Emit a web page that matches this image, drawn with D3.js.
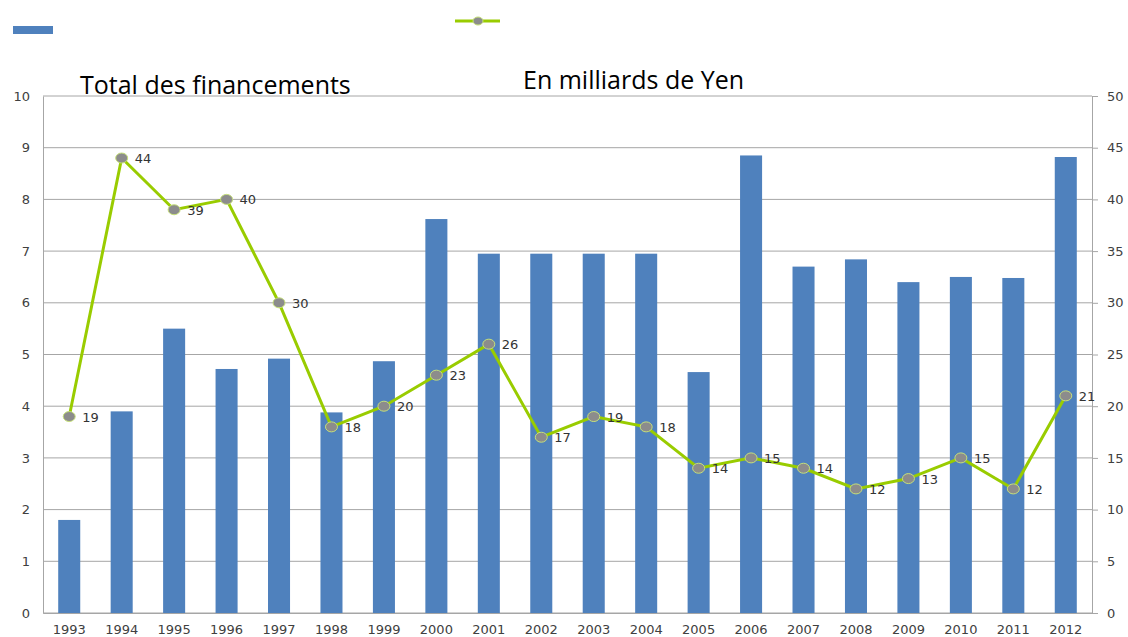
<!DOCTYPE html>
<html>
<head>
<meta charset="utf-8">
<script src="https://cdn.jsdelivr.net/npm/d3@7"></script>
<style>
  body { margin: 0; background: #fff; }
  .tick text { font-family: "DejaVu Sans", Verdana, sans-serif; font-size: 13px; fill: #404040; }
  .title { font-family: "Open Sans", "Liberation Sans", sans-serif; font-size: 25px; fill: #000; }
  .lbl { font-family: "DejaVu Sans", Verdana, sans-serif; font-size: 13px; fill: #333; }
</style>
</head>
<body>
<div id="chart"></div>
<script>
var years = ["1993","1994","1995","1996","1997","1998","1999","2000","2001","2002",
  "2003","2004","2005","2006","2007","2008","2009","2010","2011","2012"];
var totals = [1.8, 3.9, 5.5, 4.72, 4.92, 3.88, 4.87, 7.62, 6.95, 6.95,
  6.95, 6.95, 4.66, 8.85, 6.7, 6.84, 6.4, 6.5, 6.48, 8.82];
var counts = [19, 44, 39, 40, 30, 18, 20, 23, 26, 17, 19, 18, 14, 15, 14, 12, 13, 15, 12, 21];
var leftTicks = [0,1,2,3,4,5,6,7,8,9,10];
var rightTicks = [0,5,10,15,20,25,30,35,40,45,50];

var svgWidth = 1128, svgHeight = 637;
var margin = {top: 96, right: 36, bottom: 24, left: 43};
var width = svgWidth - margin.left - margin.right;
var height = svgHeight - margin.top - margin.bottom;

var svg = d3.select("#chart").append("svg")
  .attr("width", svgWidth)
  .attr("height", svgHeight);

var chartGroup = svg.append("g")
  .attr("transform", `translate(${margin.left}, ${margin.top})`);

var x = d3.scaleBand().domain(years).range([0, width]).paddingInner(0.58).paddingOuter(0.29);
var yLeft = d3.scaleLinear().domain([0, 10]).range([height, 0]);
var yRight = d3.scaleLinear().domain([0, 50]).range([height, 0]);

// gridlines
chartGroup.selectAll(".grid")
  .data(leftTicks)
  .enter()
  .append("line")
  .attr("x1", 0)
  .attr("x2", width)
  .attr("y1", d => yLeft(d))
  .attr("y2", d => yLeft(d))
  .attr("stroke", "#a6a6a6")
  .attr("stroke-width", 1);

// bars
chartGroup.selectAll("rect.bar")
  .data(totals)
  .enter()
  .append("rect")
  .classed("bar", true)
  .attr("x", (d, i) => x(years[i]))
  .attr("y", d => yLeft(d))
  .attr("width", x.bandwidth())
  .attr("height", d => height - yLeft(d))
  .attr("fill", "#4f81bd");

// axes
var leftAxis = d3.axisLeft(yLeft).tickValues(leftTicks).tickSize(0).tickPadding(13);
var rightAxis = d3.axisRight(yRight).tickValues(rightTicks).tickSize(6).tickPadding(9);
var bottomAxis = d3.axisBottom(x).tickSize(0).tickPadding(12);

var gl = chartGroup.append("g").call(leftAxis);
gl.select(".domain").attr("stroke", "#a6a6a6");

var gr = chartGroup.append("g")
  .attr("transform", `translate(${width}, 0)`)
  .call(rightAxis);
gr.selectAll("line, .domain").attr("stroke", "#a6a6a6");

var gb = chartGroup.append("g")
  .attr("transform", `translate(0, ${height})`)
  .call(bottomAxis);
gb.select(".domain").attr("stroke", "#a6a6a6");

// line
var cx = (d, i) => x(years[i]) + x.bandwidth() / 2;
var line = d3.line()
  .x(cx)
  .y(d => yRight(d));

chartGroup.append("path")
  .datum(counts)
  .attr("fill", "none")
  .attr("stroke", "#99cc00")
  .attr("stroke-width", 3)
  .attr("d", line);

chartGroup.selectAll("ellipse.marker")
  .data(counts)
  .enter()
  .append("ellipse")
  .classed("marker", true)
  .attr("cx", cx)
  .attr("cy", d => yRight(d))
  .attr("rx", 6)
  .attr("ry", 5)
  .attr("fill", "#8c8c8c")
  .attr("stroke", "#c6e07a")
  .attr("stroke-width", 1);

chartGroup.selectAll("text.lbl")
  .data(counts)
  .enter()
  .append("text")
  .classed("lbl", true)
  .attr("x", (d, i) => cx(d, i) + 13)
  .attr("y", d => yRight(d) + 5)
  .text(d => d);

// titles
svg.append("text").classed("title", true).attr("x", 80).attr("y", 94).text("Total des financements");
svg.append("text").classed("title", true).attr("x", 523).attr("y", 89).text("En milliards de Yen");

// legend
svg.append("rect").attr("x", 13).attr("y", 26).attr("width", 40).attr("height", 8).attr("fill", "#4f81bd");
svg.append("line").attr("x1", 455).attr("x2", 500).attr("y1", 21).attr("y2", 21)
  .attr("stroke", "#99cc00").attr("stroke-width", 3);
svg.append("ellipse").attr("cx", 478).attr("cy", 21).attr("rx", 5).attr("ry", 4)
  .attr("fill", "#8c8c8c").attr("stroke", "#c6e07a");
</script>
</body>
</html>
